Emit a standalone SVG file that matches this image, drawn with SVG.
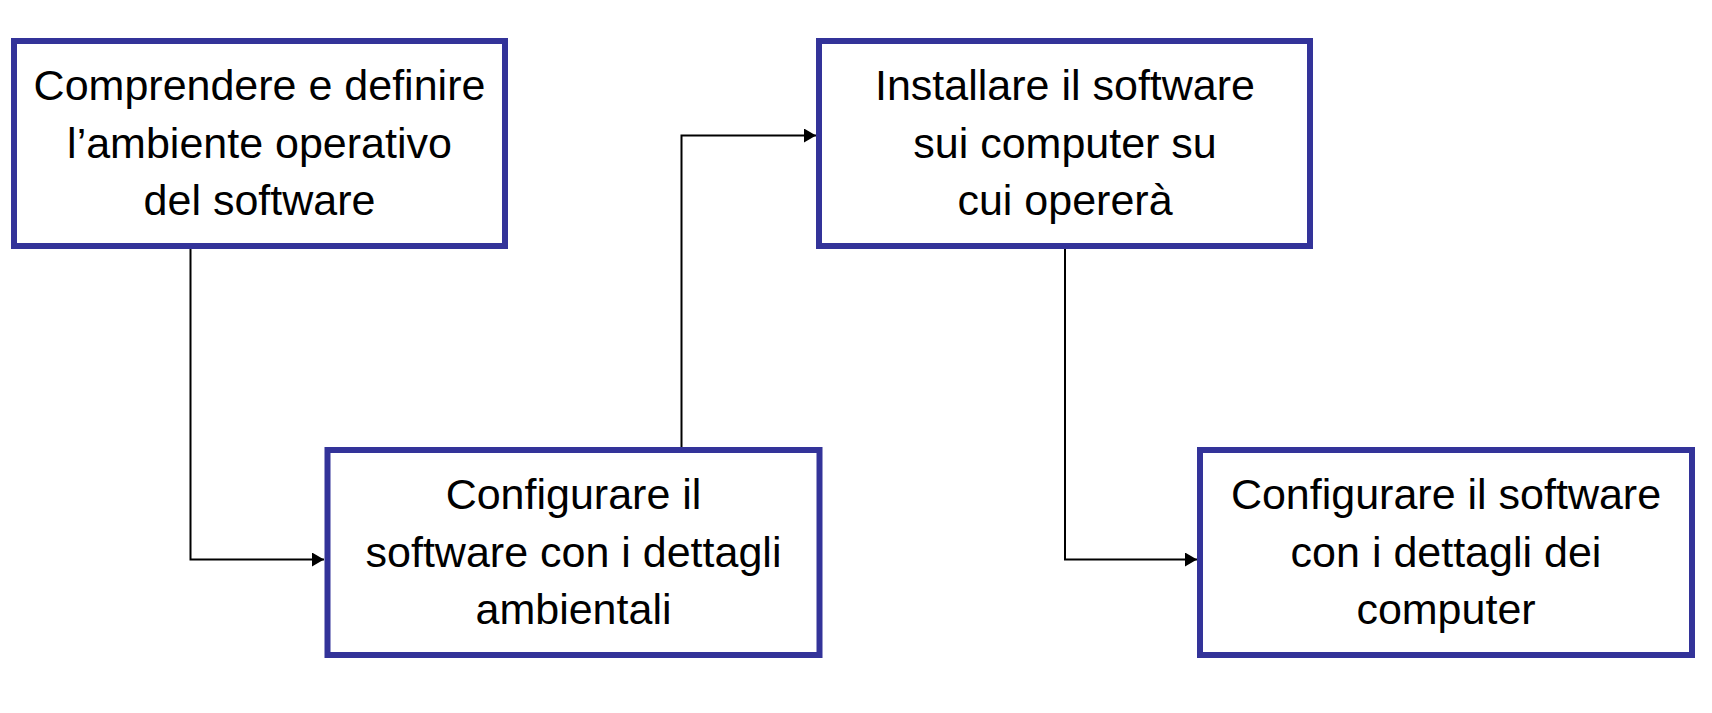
<svg xmlns="http://www.w3.org/2000/svg" width="1712" height="713" viewBox="0 0 1712 713">
<style>
.box{fill:#ffffff;stroke:#333399;stroke-width:6}
.lbl{font-family:"Liberation Sans",Arial,sans-serif;font-size:43px;fill:#000000;text-anchor:middle}
.conn{fill:none;stroke:#000000;stroke-width:2}
</style>
<defs>
<marker id="arr" markerUnits="userSpaceOnUse" markerWidth="13" markerHeight="14" refX="12" refY="7" orient="auto">
<path d="M0,0 L12,7 L0,14 z" fill="#000000"/>
</marker>
</defs>
<rect width="1712" height="713" fill="#ffffff"/>
<g id="connectors">
<path class="conn" d="M190.5,249 V559.5 H324" marker-end="url(#arr)"/>
<path class="conn" d="M681.5,447 V135.5 H816" marker-end="url(#arr)"/>
<path class="conn" d="M1065,249 V559.5 H1197" marker-end="url(#arr)"/>
</g>
<g id="node1">
<rect class="box" x="14" y="41" width="491" height="205"/>
<text class="lbl" x="259.5" y="100">Comprendere e definire</text>
<text class="lbl" x="259.5" y="157.5">l’ambiente operativo</text>
<text class="lbl" x="259.5" y="215">del software</text>
</g>
<g id="node2">
<rect class="box" x="327.5" y="450" width="492" height="205"/>
<text class="lbl" x="573.5" y="509">Configurare il</text>
<text class="lbl" x="573.5" y="566.5">software con i dettagli</text>
<text class="lbl" x="573.5" y="624">ambientali</text>
</g>
<g id="node3">
<rect class="box" x="819" y="41" width="491" height="205"/>
<text class="lbl" x="1065" y="100">Installare il software</text>
<text class="lbl" x="1065" y="157.5">sui computer su</text>
<text class="lbl" x="1065" y="215">cui opererà</text>
</g>
<g id="node4">
<rect class="box" x="1200" y="450" width="492" height="205"/>
<text class="lbl" x="1446" y="509">Configurare il software</text>
<text class="lbl" x="1446" y="566.5">con i dettagli dei</text>
<text class="lbl" x="1446" y="624">computer</text>
</g>
</svg>
